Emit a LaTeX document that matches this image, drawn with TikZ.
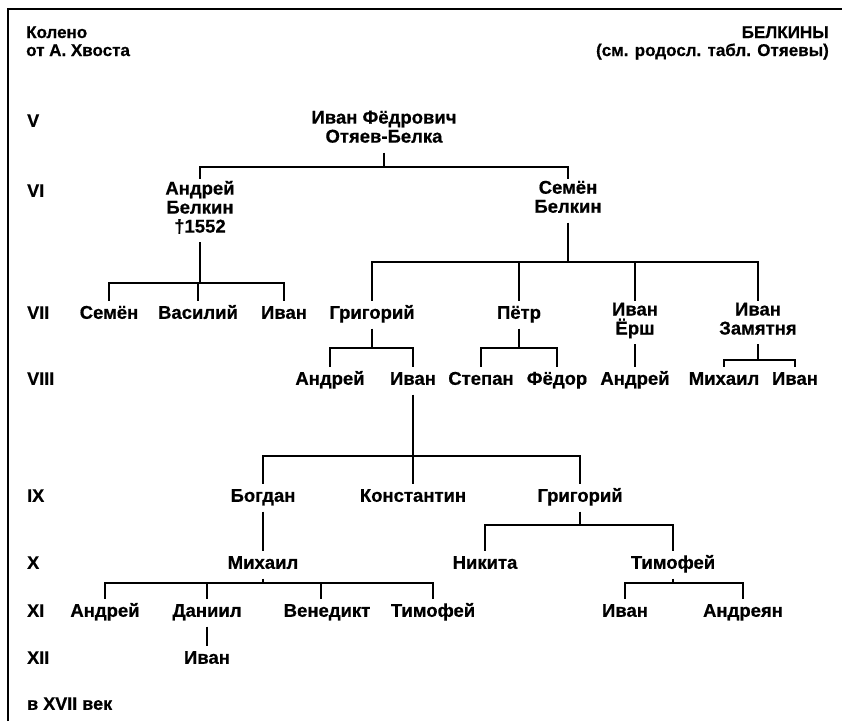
\documentclass[tikz,border=0pt]{standalone}
\usepackage{fontspec}
\setmainfont{Liberation Sans}[BoldFeatures={FakeBold=0.6}]
\newcommand\mytopstrut{\rule{0pt}{16pt}}
\newcommand\myhdstrut{\rule{0pt}{15pt}}
\begin{document}
\begin{tikzpicture}[x=1pt,y=-1pt,
  txt/.style={inner sep=0pt,font=\fontsize{18.5}{19}\selectfont\bfseries,
    execute at begin node=\mytopstrut, execute at end node=\strut},
  nm/.style={txt,anchor=north,align=center},
  rl/.style={txt,anchor=north west,align=left,font=\fontsize{18}{19}\selectfont\bfseries},
  hd/.style={inner sep=0pt,font=\fontsize{17}{18}\selectfont\bfseries,
    execute at begin node=\myhdstrut, execute at end node=\strut},
  conn/.style={line width=1.2pt},
  frame/.style={line width=1.8pt}]
\useasboundingbox (0,0) rectangle (842,721);
\draw[frame] (8,721) -- (8,9) -- (842,9);
% headers
\node[hd,anchor=north west,align=left] (hl) at (26,26.1) {Колено\\от А. Хвоста};
\node[hd,anchor=north east,align=right] (hr) at (829,26.1) {БЕЛКИНЫ\\(см. родосл. табл. Отяевы)};
% row labels
\node[rl] (r5) at (27,110.6) {V};
\node[rl] (r6) at (27,180.6) {VI};
\node[rl] (r7) at (27,302.6) {VII};
\node[rl] (r8) at (27,368.6) {VIII};
\node[rl] (r9) at (27,485.6) {IX};
\node[rl] (r10) at (27,552.6) {X};
\node[rl] (r11) at (27,600.6) {XI};
\node[rl] (r12) at (27,647.6) {XII};
\node[rl] (r17) at (27,693.6) {в XVII век};
% V
\node[nm] (ivf) at (384,110.6) {Иван Фёдрович\\Отяев-Белка};
% VI
\node[nm] (ab) at (200,180.6) {Андрей\\Белкин\\†1552};
\node[nm] (sb) at (568,180.6) {Семён\\Белкин};
% VII
\node[nm] (s7) at (109,302.6) {Семён};
\node[nm] (v7) at (198,302.6) {Василий};
\node[nm] (i7) at (284,302.6) {Иван};
\node[nm] (g7) at (372,302.6) {Григорий};
\node[nm] (p7) at (519,302.6) {Пётр};
\node[nm] (ie7) at (635,302.6) {Иван\\Ёрш};
\node[nm] (iz7) at (758,302.6) {Иван\\Замятня};
% VIII
\node[nm] (a8) at (330,368.6) {Андрей};
\node[nm] (i8) at (413,368.6) {Иван};
\node[nm] (st8) at (481,368.6) {Степан};
\node[nm] (f8) at (557,368.6) {Фёдор};
\node[nm] (a8b) at (635,368.6) {Андрей};
\node[nm] (m8) at (724,368.6) {Михаил};
\node[nm] (i8b) at (795,368.6) {Иван};
% IX
\node[nm] (b9) at (263,485.6) {Богдан};
\node[nm] (k9) at (413,485.6) {Константин};
\node[nm] (g9) at (580,485.6) {Григорий};
% X
\node[nm] (m10) at (263,552.6) {Михаил};
\node[nm] (n10) at (485,552.6) {Никита};
\node[nm] (t10) at (673,552.6) {Тимофей};
% XI
\node[nm] (a11) at (105,600.6) {Андрей};
\node[nm] (d11) at (207,600.6) {Даниил};
\node[nm] (v11) at (327,600.6) {Венедикт};
\node[nm] (t11) at (433,600.6) {Тимофей};
\node[nm] (i11) at (625,600.6) {Иван};
\node[nm] (an11) at (743,600.6) {Андреян};
% XII
\node[nm] (i12) at (207,647.6) {Иван};
% connectors
% Ivan Fedorovich
\draw[conn] ([yshift=-4pt]ivf.south) -- (ivf.south |- 0,167);
\draw[conn] ([yshift=2pt]ab.north) -- (ab.north |- 0,167) -- (sb.north |- 0,167) -- ([yshift=2pt]sb.north);
% Andrey Belkin
\draw[conn] ([yshift=-4pt]ab.south) -- (ab.south |- 0,283);
\draw[conn] ([yshift=2pt]s7.north) -- (s7.north |- 0,283) -- (i7.north |- 0,283) -- ([yshift=2pt]i7.north);
\draw[conn] ([yshift=2pt]v7.north) -- (v7.north |- 0,283);
% Semen Belkin
\draw[conn] ([yshift=-4pt]sb.south) -- (sb.south |- 0,262);
\draw[conn] ([yshift=2pt]g7.north) -- (g7.north |- 0,262) -- (iz7.north |- 0,262) -- ([yshift=2pt]iz7.north);
\draw[conn] ([yshift=2pt]p7.north) -- (p7.north |- 0,262);
\draw[conn] ([yshift=2pt]ie7.north) -- (ie7.north |- 0,262);
% Grigoriy VII
\draw[conn] ([yshift=-4pt]g7.south) -- (g7.south |- 0,348);
\draw[conn] ([yshift=2pt]a8.north) -- (a8.north |- 0,348) -- (i8.north |- 0,348) -- ([yshift=2pt]i8.north);
% Petr
\draw[conn] ([yshift=-4pt]p7.south) -- (p7.south |- 0,348);
\draw[conn] ([yshift=2pt]st8.north) -- (st8.north |- 0,348) -- (f8.north |- 0,348) -- ([yshift=2pt]f8.north);
% Ivan Ersh
\draw[conn] ([yshift=-4pt]ie7.south) -- ([yshift=2pt]a8b.north);
% Ivan Zamyatnya
\draw[conn] ([yshift=-4pt]iz7.south) -- (iz7.south |- 0,360);
\draw[conn] ([yshift=2pt]m8.north) -- (m8.north |- 0,360) -- (i8b.north |- 0,360) -- ([yshift=2pt]i8b.north);
% Ivan VIII
\draw[conn] ([yshift=-4pt]i8.south) -- (i8.south |- 0,456);
\draw[conn] ([yshift=2pt]b9.north) -- (b9.north |- 0,456) -- (g9.north |- 0,456) -- ([yshift=2pt]g9.north);
\draw[conn] ([yshift=2pt]k9.north) -- (k9.north |- 0,456);
% Bogdan
\draw[conn] ([yshift=-4pt]b9.south) -- ([yshift=2pt]m10.north);
% Grigoriy IX
\draw[conn] ([yshift=-4pt]g9.south) -- (g9.south |- 0,525);
\draw[conn] ([yshift=2pt]n10.north) -- (n10.north |- 0,525) -- (t10.north |- 0,525) -- ([yshift=2pt]t10.north);
% Mikhail X
\draw[conn] ([yshift=-4pt]m10.south) -- (m10.south |- 0,583);
\draw[conn] ([yshift=2pt]a11.north) -- (a11.north |- 0,583) -- (t11.north |- 0,583) -- ([yshift=2pt]t11.north);
\draw[conn] ([yshift=2pt]d11.north) -- (d11.north |- 0,583);
\draw[conn] ([yshift=2pt,xshift=-6pt]v11.north) -- ([xshift=-6pt]v11.north |- 0,583);
% Timofey X
\draw[conn] ([yshift=-4pt]t10.south) -- (t10.south |- 0,583);
\draw[conn] ([yshift=2pt]i11.north) -- (i11.north |- 0,583) -- (an11.north |- 0,583) -- ([yshift=2pt]an11.north);
% Daniil
\draw[conn] ([yshift=-4pt]d11.south) -- ([yshift=2pt]i12.north);
\end{tikzpicture}
\end{document}
